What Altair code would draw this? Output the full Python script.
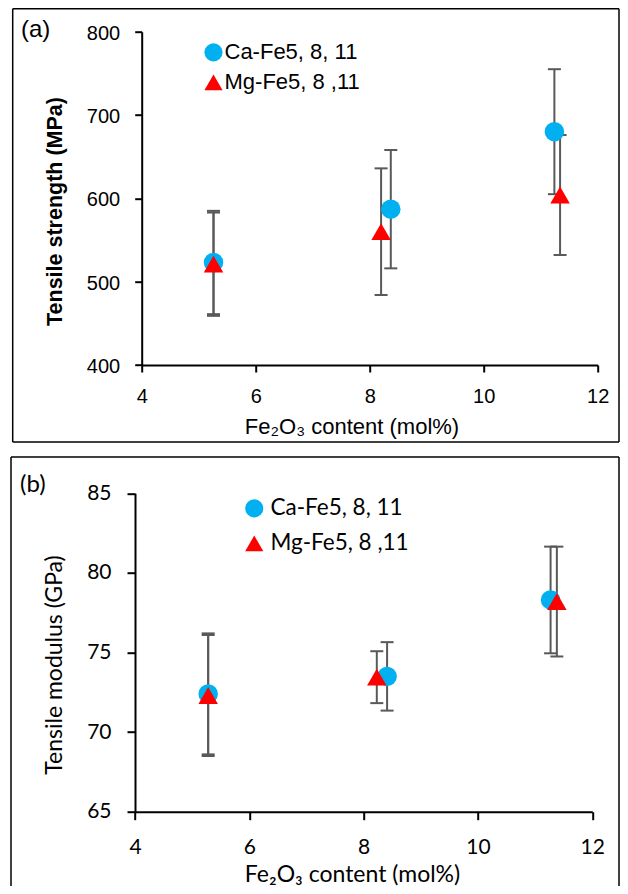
import altair as alt
import pandas as pd

SERIES = ["Ca-Fe5, 8, 11", "Mg-Fe5, 8 ,11"]
COLORS = ["#00B0F0", "#FF0000"]
SHAPES = ["circle", "triangle-up"]
PANEL_LABELS = ["(a)", "(b)"]
X_TITLE = "Fe\u2082O\u2083 content (mol%)"
Y_TITLES = ["Tensile strength (MPa)", "Tensile modulus (GPa)"]
X_TICKS = [4, 6, 8, 10, 12]

# panel (a): tensile strength (MPa)
a_ca_x = [5.26, 8.37, 11.24]
a_ca_y = [523, 587, 680]
a_ca_err = [62, 71, 75]
a_mg_x = [5.26, 8.20, 11.34]
a_mg_y = [521, 560, 604]
a_mg_err = [62, 76, 72]
a_y_ticks = [400, 500, 600, 700, 800]

# panel (b): tensile modulus (GPa)
b_ca_x = [5.28, 8.41, 11.27]
b_ca_y = [72.4, 73.5, 78.3]
b_ca_err = [3.8, 2.15, 3.35]
b_mg_x = [5.28, 8.23, 11.38]
b_mg_y = [72.3, 73.45, 78.2]
b_mg_err = [3.8, 1.63, 3.45]
b_y_ticks = [65, 70, 75, 80, 85]


def frame(cx, cy, ce, mx, my, me):
    rows = []
    for s, xs, ys, es in [(SERIES[0], cx, cy, ce), (SERIES[1], mx, my, me)]:
        for x, y, e in zip(xs, ys, es):
            rows.append({"series": s, "x": x, "y": y, "lo": y - e, "hi": y + e})
    return pd.DataFrame(rows)


ONE = pd.DataFrame({"k": [0]})


def line(x1, x2, y1, y2):
    return alt.Chart(ONE).mark_rule(color="black", strokeWidth=1.5).encode(
        x=alt.value(x1), x2=alt.value(x2), y=alt.value(y1), y2=alt.value(y2))


def text(t, g, size, weight, x, y, angle=0, align="center", baseline="middle"):
    return alt.Chart(pd.DataFrame({"t": [t]})).mark_text(
        font=g["font"], fontSize=size, fontWeight=weight, align=align,
        baseline=baseline, color="black", angle=angle
    ).encode(text="t:N", x=alt.value(x), y=alt.value(y))


def panel(df, label, y_ticks, y_title, g):
    xscale = alt.Scale(domain=[4, 12], range=g["xr"], nice=False, zero=False)
    yscale = alt.Scale(domain=[y_ticks[0], y_ticks[-1]], range=g["yr"], nice=False,
                       zero=False)
    common = dict(grid=False, domainColor="black", domainWidth=2, tickColor="black",
                  tickWidth=2, tickSize=g["tick"], labelFont=g["font"],
                  labelFontSize=g["lfs"], labelColor="black", labelFlush=False,
                  labelOverlap=False, title=None)
    xaxis = alt.Axis(values=X_TICKS, orient="bottom", offset=g["xoff"],
                     labelPadding=g["xlp"], **common)
    yaxis = alt.Axis(values=y_ticks, orient="left", offset=g["yoff"],
                     labelPadding=g["ylp"], labelOffset=g["ylo"], **common)

    def X():
        return alt.X("x:Q", scale=xscale, axis=xaxis)

    def Y(f):
        return alt.Y(f, scale=yscale, axis=yaxis)

    base = alt.Chart(df)
    rules = base.mark_rule(color="#595959", strokeWidth=2).encode(
        x=X(), y=Y("lo:Q"), y2="hi:Q")
    caps = base.transform_fold(["lo", "hi"]).mark_tick(
        orient="horizontal", size=13, thickness=2, color="#595959", opacity=1
    ).encode(x=X(), y=Y("value:Q"))
    leg = alt.Legend(orient="none", legendX=g["lx"], legendY=g["ly"], title=None,
                     labelFont=g["font"], labelFontSize=g["legfs"], labelColor="black",
                     symbolSize=330, symbolStrokeWidth=0, symbolOpacity=1,
                     labelOffset=g["loff"], rowPadding=g["rp"], padding=0, labelLimit=400)
    pts = base.mark_point(filled=True, opacity=1, size=380, strokeWidth=0).encode(
        x=X(), y=Y("y:Q"),
        color=alt.Color("series:N", scale=alt.Scale(domain=SERIES, range=COLORS), legend=leg),
        shape=alt.Shape("series:N", scale=alt.Scale(domain=SERIES, range=SHAPES), legend=leg),
    )
    bx1, bx2, by1, by2 = g["box"]
    box = [line(bx1, bx2, by1, by1), line(bx1, bx1, by1, by2), line(bx2, bx2, by1, by2),
           line(bx1, bx2, by2, by2)]
    lab = text(label, g, g["pfs"], "normal", g["px"], g["py"], align="left",
               baseline="alphabetic")
    ytitle = text(y_title, g, g["ytfs"], g["ytfw"], g["ytx"], g["yty"], angle=270)
    xtitle = text(X_TITLE, g, g["xtfs"], "normal", g["xtx"], g["xty"])
    return alt.layer(*box, rules, caps, pts, lab, ytitle, xtitle)


# all pixel positions are relative to the plot area of panel (a)
ga = dict(font="Liberation Sans", lfs=20, tick=7, xlp=14, ylp=15, ylo=1.5,
          xr=[0, 456], yr=[333.3, 0], xoff=0, yoff=0,
          xtfs=22, xtx=210.3, xty=395, ytfs=21.5, ytfw="bold", ytx=-85.3, yty=179.8,
          box=(-129, 477.3, -22.9, 410.3), lx=60.8, ly=9.6, legfs=22,
          loff=0, rp=8, pfs=24, px=-120.7, py=5)
gb = dict(font="Lato", lfs=21, tick=8, xlp=17, ylp=16, ylo=0,
          xr=[-6.7, 450.6], yr=[780, 461.6], xoff=446.7, yoff=6.7,
          xtfs=23, xtx=210.8, xty=843.5, ytfs=23, ytfw="normal", ytx=-86.7, yty=633.3,
          box=(-130.7, 477.3, 425.3, 900), lx=101.3, ly=465.5, legfs=22.5,
          loff=5, rp=12, pfs=24, px=-121.7, py=460.3)

pa = panel(frame(a_ca_x, a_ca_y, a_ca_err, a_mg_x, a_mg_y, a_mg_err),
           PANEL_LABELS[0], a_y_ticks, Y_TITLES[0], ga)
pb = panel(frame(b_ca_x, b_ca_y, b_ca_err, b_mg_x, b_mg_y, b_mg_err),
           PANEL_LABELS[1], b_y_ticks, Y_TITLES[1], gb)

chart = alt.layer(pa, pb).resolve_scale(
    x="independent", y="independent", color="independent", shape="independent"
).resolve_axis(x="independent", y="independent").resolve_legend(
    color="independent", shape="independent"
).properties(
    width=456, height=333.3,
    autosize=alt.AutoSizeParams(type="none"),
    padding={"left": 133.7, "top": 23.7, "right": 22.3, "bottom": 521},
).configure_view(strokeWidth=0)

chart.save("out.html", embed_options={"renderer": "svg", "actions": False})
